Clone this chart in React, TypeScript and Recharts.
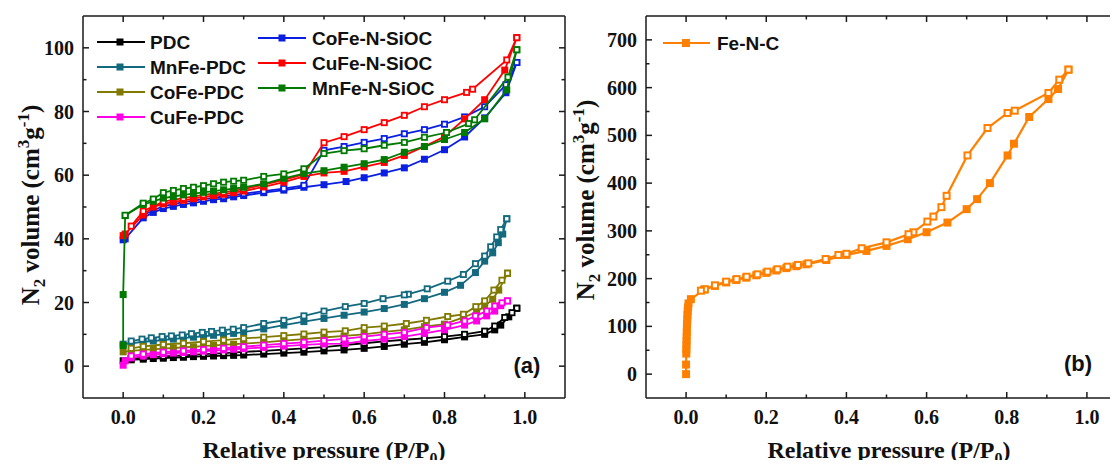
import React from 'react';
import { ScatterChart, Scatter, XAxis, YAxis } from 'recharts';

type P = [number, number];

// ---------- ticks ----------
const X_MAJOR = [0, 0.2, 0.4, 0.6, 0.8, 1.0];
const X_MINOR = [0.1, 0.3, 0.5, 0.7, 0.9];
const YA_MAJOR = [0, 20, 40, 60, 80, 100];
const YA_MINOR = [10, 30, 50, 70, 90];
const YB_MAJOR = [0, 100, 200, 300, 400, 500, 600, 700];
const YB_MINOR = [50, 150, 250, 350, 450, 550, 650];

// ---------- panel (a) data ----------
const PDC_ADS: P[] = [[0,1.7],[0.02,2.0],[0.05,2.2],[0.075,2.4],[0.1,2.5],[0.125,2.7],[0.15,2.8],[0.175,3.0],[0.2,3.1],[0.225,3.2],[0.25,3.3],[0.275,3.4],[0.3,3.5],[0.35,3.8],[0.4,4.1],[0.45,4.4],[0.5,4.8],[0.55,5.1],[0.6,5.6],[0.65,6.2],[0.7,6.9],[0.75,7.5],[0.8,8.3],[0.85,9.2],[0.9,10.0],[0.925,11.4],[0.94,12.9],[0.96,15.5],[0.98,18.2]];
const PDC_DES: P[] = [[0.98,18.2],[0.968,16.8],[0.95,15.3],[0.925,12.6],[0.9,11.0],[0.85,10.0],[0.8,9.3],[0.75,8.7],[0.7,8.3],[0.65,7.8],[0.6,7.2],[0.55,6.6],[0.5,6.0],[0.45,5.6],[0.4,5.2],[0.35,4.8],[0.3,4.5],[0.25,4.1],[0.2,3.8],[0.15,3.4],[0.1,3.1],[0.05,2.7],[0.02,2.4]];

const MNFE_PDC_ADS: P[] = [[0,6.9],[0.02,7.2],[0.05,7.6],[0.075,7.9],[0.1,8.2],[0.125,8.5],[0.15,8.8],[0.175,9.1],[0.2,9.4],[0.225,9.7],[0.25,10.0],[0.275,10.3],[0.3,10.7],[0.35,11.7],[0.4,12.9],[0.45,14.0],[0.5,15.0],[0.55,16.0],[0.6,17.0],[0.65,18.1],[0.7,19.4],[0.75,21.2],[0.8,23.2],[0.84,25.4],[0.877,29.4],[0.9,33.0],[0.92,35.6],[0.934,38.8],[0.945,41.5],[0.955,46.3]];
const MNFE_PDC_DES: P[] = [[0.955,46.3],[0.94,42.9],[0.93,40.6],[0.915,37.5],[0.9,34.6],[0.877,32.2],[0.847,28.8],[0.808,26.7],[0.757,24.3],[0.71,22.6],[0.7,22.4],[0.647,21.2],[0.6,19.7],[0.553,18.7],[0.5,17.3],[0.45,15.8],[0.4,14.4],[0.35,13.4],[0.3,12.1],[0.274,11.6],[0.247,11.3],[0.22,10.9],[0.197,10.6],[0.17,10.2],[0.147,9.8],[0.12,9.5],[0.097,9.3],[0.07,8.9],[0.047,8.5],[0.02,7.9]];

const COFE_PDC_ADS: P[] = [[0,4.5],[0.02,4.8],[0.05,5.1],[0.075,5.3],[0.1,5.5],[0.125,5.7],[0.15,5.9],[0.175,6.1],[0.2,6.3],[0.225,6.5],[0.25,6.7],[0.275,6.9],[0.3,7.1],[0.35,7.5],[0.4,8.0],[0.45,8.5],[0.5,9.0],[0.55,9.5],[0.6,10.0],[0.65,10.8],[0.7,11.4],[0.75,12.4],[0.8,13.2],[0.847,15.3],[0.88,17.0],[0.9,18.9],[0.92,21.0],[0.935,23.9],[0.957,29.2]];
const COFE_PDC_DES: P[] = [[0.957,29.2],[0.943,27.0],[0.923,23.9],[0.9,20.5],[0.878,18.7],[0.847,16.3],[0.808,15.6],[0.755,14.4],[0.705,13.4],[0.65,12.6],[0.6,12.1],[0.553,11.1],[0.5,10.7],[0.45,10.1],[0.4,9.6],[0.35,9.1],[0.3,8.7],[0.25,8.2],[0.2,7.7],[0.15,7.2],[0.1,6.8],[0.05,6.2],[0.02,5.6]];

const CUFE_PDC_ADS: P[] = [[0,0.3],[0.005,1.7],[0.02,2.6],[0.05,3.2],[0.075,3.6],[0.1,3.9],[0.125,4.1],[0.15,4.3],[0.175,4.5],[0.2,4.7],[0.225,4.9],[0.25,5.1],[0.275,5.3],[0.3,5.5],[0.35,5.9],[0.4,6.3],[0.45,6.7],[0.5,7.0],[0.553,7.1],[0.6,7.9],[0.65,8.5],[0.7,9.3],[0.75,10.3],[0.8,11.4],[0.85,12.9],[0.88,14.2],[0.905,15.8],[0.925,17.3],[0.94,19.0],[0.957,20.5]];
const CUFE_PDC_DES: P[] = [[0.957,20.5],[0.943,19.9],[0.925,18.9],[0.905,17.3],[0.877,15.8],[0.85,14.2],[0.808,12.9],[0.755,12.1],[0.7,10.6],[0.65,10.0],[0.6,9.3],[0.55,8.6],[0.5,8.0],[0.45,7.5],[0.4,7.1],[0.35,6.6],[0.3,6.1],[0.25,5.6],[0.2,5.2],[0.15,4.8],[0.1,4.4],[0.05,3.8],[0.02,3.2]];

const COFE_NSIOC_ADS: P[] = [[0,39.7],[0.005,40.0],[0.05,46.6],[0.075,48.3],[0.1,49.5],[0.125,50.2],[0.15,50.8],[0.175,51.3],[0.2,51.8],[0.225,52.3],[0.25,52.6],[0.275,53.2],[0.3,53.6],[0.35,54.5],[0.4,55.3],[0.45,56.2],[0.5,57.0],[0.555,58.0],[0.6,59.2],[0.65,60.7],[0.7,62.3],[0.75,65.0],[0.8,68.0],[0.85,72.0],[0.9,78.0],[0.953,85.9],[0.98,95.4]];
const COFE_NSIOC_DES: P[] = [[0.98,95.4],[0.953,88.4],[0.9,81.5],[0.85,78.3],[0.8,76.0],[0.75,74.3],[0.7,73.0],[0.65,71.5],[0.6,70.3],[0.55,69.0],[0.5,67.8],[0.45,56.8],[0.4,55.8],[0.35,55.0],[0.3,54.2],[0.25,53.3],[0.2,52.5],[0.15,51.5],[0.1,50.3],[0.05,47.5]];

const CUFE_NSIOC_ADS: P[] = [[0,41.0],[0.005,41.5],[0.05,47.5],[0.075,50.0],[0.1,51.0],[0.125,51.6],[0.15,52.1],[0.175,52.6],[0.2,53.2],[0.225,53.6],[0.25,54.0],[0.275,54.5],[0.3,55.0],[0.35,56.3],[0.4,57.8],[0.45,59.6],[0.5,60.7],[0.55,61.2],[0.6,62.6],[0.65,64.0],[0.7,66.2],[0.75,69.0],[0.8,72.1],[0.85,77.7],[0.9,83.7],[0.95,93.0],[0.98,103.2]];
const CUFE_NSIOC_DES: P[] = [[0.98,103.2],[0.955,96.2],[0.87,87.0],[0.855,86.0],[0.8,83.7],[0.75,81.5],[0.7,78.8],[0.65,76.5],[0.6,74.3],[0.55,72.1],[0.5,70.2],[0.45,60.3],[0.4,58.5],[0.35,57.0],[0.3,55.6],[0.25,54.6],[0.2,53.8],[0.15,52.8],[0.1,51.7],[0.05,48.7],[0.02,44.0]];

const MNFE_NSIOC_ADS: P[] = [[0,6.5],[0,22.5],[0.005,47.3],[0.05,50.8],[0.075,51.8],[0.1,52.8],[0.125,53.3],[0.15,53.8],[0.175,54.2],[0.2,54.6],[0.225,55.0],[0.25,55.4],[0.275,55.8],[0.3,56.2],[0.35,57.3],[0.4,59.0],[0.45,60.5],[0.5,61.4],[0.55,62.5],[0.6,63.6],[0.65,64.9],[0.7,67.2],[0.75,69.0],[0.8,71.2],[0.85,73.4],[0.9,77.7],[0.955,86.8],[0.98,99.4]];
const MNFE_NSIOC_DES: P[] = [[0.98,99.4],[0.958,90.8],[0.875,77.4],[0.86,76.2],[0.805,73.4],[0.75,71.9],[0.7,70.3],[0.65,69.4],[0.6,68.3],[0.55,67.7],[0.5,66.8],[0.45,62.0],[0.4,60.4],[0.35,59.6],[0.3,58.4],[0.275,58.1],[0.25,57.8],[0.225,57.3],[0.2,56.7],[0.175,56.2],[0.15,55.8],[0.125,55.2],[0.1,54.5],[0.075,52.5],[0.05,51.2],[0.005,47.4]];

// ---------- panel (b) data ----------
const FENC_ADS: P[] = [[0,0],[0,20],[0.0005,43],[0.0007,52],[0.001,61],[0.0012,70],[0.0015,79],[0.0018,88],[0.002,97],[0.0025,106],[0.003,115],[0.0035,124],[0.004,132],[0.005,140],[0.006,148],[0.012,157],[0.045,177],[0.072,184.6],[0.1,192],[0.125,197],[0.15,202],[0.175,207],[0.2,212],[0.225,217],[0.25,222],[0.275,226],[0.3,230],[0.35,239],[0.4,249.6],[0.45,258],[0.5,268.5],[0.553,282.6],[0.6,297.2],[0.652,317.4],[0.7,345.5],[0.726,366.5],[0.758,400],[0.802,458],[0.818,482.5],[0.856,538.5],[0.904,576],[0.928,597],[0.954,637.7]];
const FENC_DES: P[] = [[0.954,637.7],[0.931,616.7],[0.904,588.8],[0.82,551.7],[0.802,546.9],[0.752,515.4],[0.702,458],[0.65,373.4],[0.637,349.7],[0.617,330],[0.602,319.5],[0.567,297],[0.555,293],[0.5,276],[0.438,263.7],[0.4,252],[0.38,249.6],[0.348,241],[0.305,232],[0.279,228.7],[0.253,225],[0.228,219.6],[0.203,214.6],[0.178,209],[0.151,204],[0.126,199],[0.1,193.7],[0.072,186],[0.047,177.7],[0.037,174.8]];

const SERIES_A = [
  { name: 'PDC', color: '#000000', ads: PDC_ADS, des: PDC_DES },
  { name: 'MnFe-PDC', color: '#13697e', ads: MNFE_PDC_ADS, des: MNFE_PDC_DES },
  { name: 'CoFe-PDC', color: '#807a00', ads: COFE_PDC_ADS, des: COFE_PDC_DES },
  { name: 'CuFe-PDC', color: '#ff00e6', ads: CUFE_PDC_ADS, des: CUFE_PDC_DES },
  { name: 'CoFe-N-SiOC', color: '#0a1fe0', ads: COFE_NSIOC_ADS, des: COFE_NSIOC_DES },
  { name: 'CuFe-N-SiOC', color: '#ff0000', ads: CUFE_NSIOC_ADS, des: CUFE_NSIOC_DES },
  { name: 'MnFe-N-SiOC', color: '#027a02', ads: MNFE_NSIOC_ADS, des: MNFE_NSIOC_DES },
];
const FENC_COLOR = '#ff8000';

const toPts = (a: P[]) => a.map(([x, y]) => ({ x, y }));

const SERIF = '"Liberation Serif", "Times New Roman", serif';
const SANS = '"Liberation Sans", Arial, sans-serif';
const FRAME = '#1a1a1a';

type Side = 'bottom' | 'left' | 'top' | 'right';
function makeTick(side: Side, majors: number[], fmt?: (v: number) => string) {
  return (props: any) => {
    const { x, y, payload } = props;
    const v = payload.value as number;
    const major = majors.some((m) => Math.abs(m - v) < 1e-9);
    const L = major ? 6 : 3.5;
    let x2 = x, y2 = y;
    if (side === 'bottom') y2 = y - L;
    if (side === 'top') y2 = y + L;
    if (side === 'left') x2 = x + L;
    if (side === 'right') x2 = x - L;
    let label = null;
    if (major && fmt) {
      if (side === 'bottom') {
        label = (
          <text x={x} y={y + 26} textAnchor="middle" fontFamily={SERIF} fontWeight="bold" fontSize={20} fill="#111">
            {fmt(v)}
          </text>
        );
      } else if (side === 'left') {
        label = (
          <text x={x - 9} y={y + 7} textAnchor="end" fontFamily={SERIF} fontWeight="bold" fontSize={20} fill="#111">
            {fmt(v)}
          </text>
        );
      }
    }
    return (
      <g>
        <line x1={x} y1={y} x2={x2} y2={y2} stroke={FRAME} strokeWidth={1.5} />
        {label}
      </g>
    );
  };
}

const filledSq = (color: string, s: number) => (p: any) => (
  <rect x={p.cx - s / 2} y={p.cy - s / 2} width={s} height={s} fill={color} />
);
const openSq = (color: string, s: number, sw: number) => (p: any) => (
  <rect x={p.cx - s / 2 + sw / 2} y={p.cy - s / 2 + sw / 2} width={s - sw} height={s - sw} fill="#ffffff" stroke={color} strokeWidth={sw} />
);

const fmtX = (v: number) => v.toFixed(1);
const fmtY = (v: number) => String(v);
const axisLine = { stroke: FRAME, strokeWidth: 1.5 };

function Frame(props: { xMajor: number[]; xMinor: number[]; yMajor: number[]; yMinor: number[]; yDomain: [number, number]; leftW: number }) {
  return null;
}

function PanelAxes(xTicks: number[], yTicks: number[], yMajor: number[], yDomain: [number, number], leftW: number) {
  return [
    <XAxis key="xb" xAxisId="b" orientation="bottom" type="number" dataKey="x" domain={[-0.1, 1.1]} allowDataOverflow ticks={xTicks} interval={0} tickSize={0} tickMargin={0} height={70} axisLine={axisLine} tickLine={false} tick={makeTick('bottom', X_MAJOR, fmtX)} />,
    <XAxis key="xt" xAxisId="t" orientation="top" type="number" dataKey="x" domain={[-0.1, 1.1]} allowDataOverflow ticks={xTicks} interval={0} tickSize={0} tickMargin={0} height={16} axisLine={axisLine} tickLine={false} tick={makeTick('top', X_MAJOR)} />,
    <YAxis key="yl" yAxisId="l" orientation="left" type="number" dataKey="y" domain={yDomain} allowDataOverflow ticks={yTicks} interval={0} tickSize={0} tickMargin={0} width={leftW} axisLine={axisLine} tickLine={false} tick={makeTick('left', yMajor, fmtY)} />,
    <YAxis key="yr" yAxisId="r" orientation="right" type="number" dataKey="y" domain={yDomain} allowDataOverflow ticks={yTicks} interval={0} tickSize={0} tickMargin={0} width={35} axisLine={axisLine} tickLine={false} tick={makeTick('right', yMajor)} />,
  ];
}

export default function App() {
  const xTicks = [...X_MAJOR, ...X_MINOR].sort((a, b) => a - b);
  const yaTicks = [...YA_MAJOR, ...YA_MINOR].sort((a, b) => a - b);
  const ybTicks = [...YB_MAJOR, ...YB_MINOR].sort((a, b) => a - b);

  const legendLeft = SERIES_A.slice(0, 4);
  const legendRight = SERIES_A.slice(4);

  return (
    <div style={{ position: 'relative', width: 1118, height: 468, margin: -8, overflow: 'hidden', background: '#fff' }}>
      <div style={{ position: 'absolute', left: 0, top: 0 }}>
        <ScatterChart width={600} height={468} margin={{ top: 0, right: 0, bottom: 0, left: 0 }}>
          {PanelAxes(xTicks, yaTicks, YA_MAJOR, [-10, 110], 83)}
          {SERIES_A.flatMap((s) => [
            <Scatter key={s.name + 'a'} xAxisId="b" yAxisId="l" data={toPts(s.ads)} line={{ stroke: s.color, strokeWidth: 1.8 }} lineType="joint" shape={filledSq(s.color, 7)} isAnimationActive={false} />,
            <Scatter key={s.name + 'd'} xAxisId="b" yAxisId="l" data={toPts(s.des)} line={{ stroke: s.color, strokeWidth: 1.8 }} lineType="joint" shape={openSq(s.color, 7, 1.8)} isAnimationActive={false} />,
          ])}
        </ScatterChart>
      </div>
      <div style={{ position: 'absolute', left: 560, top: 0 }}>
        <ScatterChart width={602} height={468} margin={{ top: 0, right: 0, bottom: 0, left: 0 }}>
          {PanelAxes(xTicks, ybTicks, YB_MAJOR, [-50, 750], 86)}
          <Scatter xAxisId="b" yAxisId="l" data={toPts(FENC_ADS)} line={{ stroke: FENC_COLOR, strokeWidth: 2.2 }} lineType="joint" shape={filledSq(FENC_COLOR, 8)} isAnimationActive={false} />
          <Scatter xAxisId="b" yAxisId="l" data={toPts(FENC_DES)} line={{ stroke: FENC_COLOR, strokeWidth: 2.2 }} lineType="joint" shape={openSq(FENC_COLOR, 8, 2)} isAnimationActive={false} />
        </ScatterChart>
      </div>
      <svg width={1118} height={468} style={{ position: 'absolute', left: 0, top: 0, pointerEvents: 'none' }}>
        {/* legend (a) */}
        {legendLeft.map((s, i) => (
          <g key={s.name}>
            <line x1={97} x2={145} y1={42 + i * 25} y2={42 + i * 25} stroke={s.color} strokeWidth={2} />
            <rect x={116.5} y={38.5 + i * 25} width={7} height={7} fill={s.color} />
            <text x={150} y={49 + i * 25} fontFamily={SANS} fontWeight="bold" fontSize={19} fill="#111">{s.name}</text>
          </g>
        ))}
        {legendRight.map((s, i) => (
          <g key={s.name}>
            <line x1={258} x2={306} y1={38 + i * 25} y2={38 + i * 25} stroke={s.color} strokeWidth={2} />
            <rect x={278.5} y={34.5 + i * 25} width={7} height={7} fill={s.color} />
            <text x={312} y={45 + i * 25} fontFamily={SANS} fontWeight="bold" fontSize={19} fill="#111">{s.name}</text>
          </g>
        ))}
        {/* legend (b) */}
        <line x1={663} x2={710} y1={43} y2={43} stroke={FENC_COLOR} strokeWidth={2.2} />
        <rect x={682} y={39} width={8} height={8} fill={FENC_COLOR} />
        <text x={717} y={50} fontFamily={SANS} fontWeight="bold" fontSize={19} fill="#111">Fe-N-C</text>

        <text x={527} y={373} textAnchor="middle" fontFamily={SANS} fontWeight="bold" fontSize={22} fill="#111">(a)</text>
        <text x={1078} y={371} textAnchor="middle" fontFamily={SANS} fontWeight="bold" fontSize={22} fill="#111">(b)</text>

        {/* axis titles */}
        {[324, 889].map((cx) => (
          <text key={cx} x={cx} y={458} textAnchor="middle" fontFamily={SERIF} fontWeight="bold" fontSize={24} fill="#111">
            Relative pressure (P/P<tspan dy={6} fontSize={16}>0</tspan><tspan dy={-6}>)</tspan>
          </text>
        ))}
        {[[39, 205], [594, 200]].map(([cx, cy]) => (
          <text key={cx} x={cx} y={cy} transform={`rotate(-90, ${cx}, ${cy})`} textAnchor="middle" fontFamily={SERIF} fontWeight="bold" fontSize={25} fill="#111">
            N<tspan dy={6} fontSize={17}>2</tspan><tspan dy={-6}> volume (cm</tspan><tspan dy={-10} fontSize={17}>3</tspan><tspan dy={10}>g</tspan><tspan dy={-10} fontSize={17}>-1</tspan><tspan dy={10}>)</tspan>
          </text>
        ))}
      </svg>
    </div>
  );
}
